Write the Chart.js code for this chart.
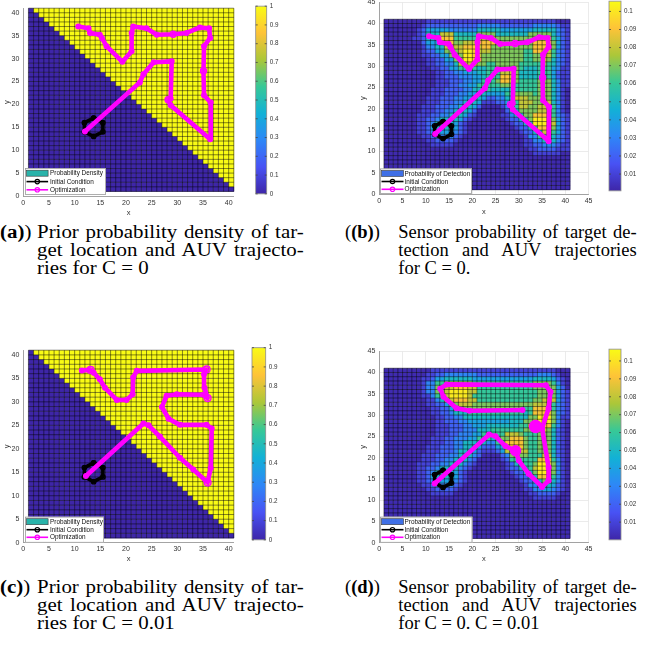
<!DOCTYPE html>
<html>
<head>
<meta charset="utf-8">
<title>AUV search trajectories</title>
<script src="https://cdn.jsdelivr.net/npm/chart.js@4.4.1/dist/chart.umd.min.js"></script>
<style>
  html, body { margin: 0; padding: 0; background: #fff; }
  body { position: relative; width: 658px; height: 651px; overflow: hidden; }
  canvas { position: absolute; }
  .cap { position: absolute; font-family: "Liberation Serif", "Times New Roman", serif; font-size: 18.5px; line-height: 18.3px; color: #000; }
  .cap .tag { position: absolute; top: 0; white-space: nowrap; transform-origin: 0 0; }
  .cap .ln { position: absolute; white-space: nowrap; text-align: justify; text-align-last: justify; transform-origin: 0 0; }
  .cap .ln.end { text-align-last: left; }
  .cap.wide .ln, .cap.wide .tag { transform: scaleX(1.13); }
</style>
</head>
<body>

<div class="cap wide" style="left:0; top:222.5px; width:330px; height:60px">
  <span class="tag" style="left:0"><b>(a)</b>)</span>
  <div class="ln" style="left:36.7px; top:0; width:236px">Prior probability density of tar-</div>
  <div class="ln" style="left:36.7px; top:18.3px; width:236px">get location and AUV trajecto-</div>
  <div class="ln end" style="left:36.7px; top:36.6px; width:236px">ries for C = 0</div>
</div>
<div class="cap" style="left:345px; top:222.5px; width:313px; height:60px">
  <span class="tag" style="left:0">(<b>(b)</b>)</span>
  <div class="ln" style="left:53.3px; top:0; width:238.4px">Sensor probability of target de-</div>
  <div class="ln" style="left:53.3px; top:18.3px; width:238.4px">tection and AUV trajectories</div>
  <div class="ln end" style="left:53.3px; top:36.6px; width:238.4px">for C = 0.</div>
</div>
<div class="cap wide" style="left:0; top:577.5px; width:330px; height:60px">
  <span class="tag" style="left:0"><b>(c)</b>)</span>
  <div class="ln" style="left:36.7px; top:0; width:236px">Prior probability density of tar-</div>
  <div class="ln" style="left:36.7px; top:18.3px; width:236px">get location and AUV trajecto-</div>
  <div class="ln end" style="left:36.7px; top:36.6px; width:236px">ries for C = 0.01</div>
</div>
<div class="cap" style="left:345px; top:577.5px; width:313px; height:60px">
  <span class="tag" style="left:0">(<b>(d)</b>)</span>
  <div class="ln" style="left:53.3px; top:0; width:238.4px">Sensor probability of target de-</div>
  <div class="ln" style="left:53.3px; top:18.3px; width:238.4px">tection and AUV trajectories</div>
  <div class="ln end" style="left:53.3px; top:36.6px; width:238.4px">for C = 0. C = 0.01</div>
</div>

<script>
// ---------- data ----------
const gridTicks = [0, 5, 10, 15, 20, 25, 30, 35, 40];
const gridTicksWide = [0, 5, 10, 15, 20, 25, 30, 35, 40, 45];
const densityTicks = [0, 0.1, 0.2, 0.3, 0.4, 0.5, 0.6, 0.7, 0.8, 0.9, 1];
const detectTicks = [0.01, 0.02, 0.03, 0.04, 0.05, 0.06, 0.07, 0.08, 0.09, 0.1];

// prior density: first column (1-based) holding density 1, rows from y=40 down to y=1
const priorFirstHigh = [2, 3, 4, 5, 6, 7, 8, 9, 10, 11, 12, 13, 14, 15, 16, 17, 18, 19, 20, 21,
  22, 23, 24, 25, 26, 27, 28, 29, 30, 31, 32, 33, 34, 35, 36, 37, 38, 39, 40, 41];

// detection probability in hundredths ('a' = top of scale), rows from y=40 down to y=1
const detectRowsC0 = [
  '0000000001 1111111111 1111111111 1111111000',
  '0000000012 2222222222 3333322222 2233333211',
  '0000000124 4444333333 5555544444 4455555321',
  '0000000125 5588855555 7777555555 5777775321',
  '0000001125 5599966666 8888777777 7788886421',
  '0000000024 4499977888 9999777777 7799997421',
  '0000000013 3558888999 8997777777 7799997421',
  '0000000012 2447778aa9 8887777777 6699986321',
  '0000000011 2244777aa9 8777777777 6677886321',
  '0000000001 1224477aa9 9777777777 6677875321',
  '0000000001 1223358888 7766777776 6666765321',
  '0000000000 1122446666 5566777776 5556664311',
  '0000000000 0112233444 5566688875 5556664211',
  '0000000000 0112223334 4566699875 5556664211',
  '0000000000 0111222334 4666799876 6667775311',
  '0000000000 0111223344 6666677766 6667775311',
  '0000000000 1112222335 5665555666 6667775310',
  '0000000000 1112223344 5544446677 7767775310',
  '0000000001 1122233445 5422335588 8777775310',
  '0000000001 1122233555 4111224668 8877885310',
  '0000000011 1222335554 2000013668 8778886310',
  '0000000011 1223355542 0000002557 7778886310',
  '0000000111 2233555421 0000011355 7799996321',
  '0000000112 2355554210 0000001225 57aaaa7421',
  '0000000112 3555542100 0000000122 55aaaa8421',
  '0000000112 4555542100 0000000012 2559997421',
  '0000000112 3444432100 0000000001 2255886421',
  '0000000011 2333321000 0000000000 1336665321',
  '0000000001 1222210000 0000000000 1133555321',
  '0000000000 1111100000 0000000000 1122333211',
  '0000000000 0000000000 0000000000 0112222111',
  '0000000000 0000000000 0000000000 0011111100',
  '0000000000 0000000000 0000000000 0000000000',
  '0000000000 0000000000 0000000000 0000000000',
  '0000000000 0000000000 0000000000 0000000000',
  '0000000000 0000000000 0000000000 0000000000',
  '0000000000 0000000000 0000000000 0000000000',
  '0000000000 0000000000 0000000000 0000000000',
  '0000000000 0000000000 0000000000 0000000000',
  '0000000000 0000000000 0000000000 0000000000'
];
const detectRowsC001 = [
  '0000000000 1111111111 1111111111 1111111000',
  '0000000001 1223333333 2222222222 2223332100',
  '0000000011 2445555554 4444444444 4455554210',
  '0000000013 3667777776 6666666666 6677776310',
  '0000000013 3778899988 6666666666 6677777420',
  '0000000013 3778aaaa88 6666666666 6667777421',
  '0000000011 3668aaaa86 6666666666 6667777421',
  '0000000001 1358899988 6666666666 6677888421',
  '0000000001 1224778887 7777777777 7788886321',
  '0000000000 1122477777 7777777777 6699996321',
  '0000000000 1122355566 6666666666 5699997321',
  '0000000000 0112233555 5555555555 577aaa7311',
  '0000000000 0112223344 4444444555 77aaaa7310',
  '0000000000 0111222334 4455555556 6999996310',
  '0000000000 0111222333 5556666666 7788875210',
  '0000000000 0111223334 4666668887 6667775210',
  '0000000000 1112233344 6665577999 7667775210',
  '0000000000 1112233555 5533669999 7667775210',
  '0000000001 1122233555 4222449999 7667775210',
  '0000000001 1122235554 2111248888 8667775210',
  '0000000011 1222335553 2000023777 7666885210',
  '0000000011 1223355532 0000012666 6669996310',
  '0000000111 2233555321 0000001255 667aaa7310',
  '0000000112 2355553210 0000001225 568aaa7310',
  '0000000112 3555542100 0000000122 557aaa7310',
  '0000000112 4555542100 0000000012 2559996310',
  '0000000112 3444432100 0000000001 2255775310',
  '0000000011 2333321000 0000000000 1335554210',
  '0000000001 1222210000 0000000000 1133443210',
  '0000000000 1111100000 0000000000 0112222100',
  '0000000000 0000000000 0000000000 0011111000',
  '0000000000 0000000000 0000000000 0000000000',
  '0000000000 0000000000 0000000000 0000000000',
  '0000000000 0000000000 0000000000 0000000000',
  '0000000000 0000000000 0000000000 0000000000',
  '0000000000 0000000000 0000000000 0000000000',
  '0000000000 0000000000 0000000000 0000000000',
  '0000000000 0000000000 0000000000 0000000000',
  '0000000000 0000000000 0000000000 0000000000',
  '0000000000 0000000000 0000000000 0000000000'
];

// initial condition ring and optimised AUV paths (x, y)
const initialRing = [[13.7, 17.0], [15.5, 16.0], [15.5, 14.0], [13.7, 13.0], [11.9, 14.0], [11.9, 16.0], [13.7, 17.0]];
const pathC0 = [[12.0, 14.1], [22.7, 24.8], [23.4, 26.6], [25.4, 29.2], [28.9, 29.4], [28.7, 21.3], [28.2, 21.0],
  [28.7, 19.8], [36.4, 12.4], [36.5, 20.4], [35.2, 22.0], [35.1, 27.3], [35.2, 32.7], [36.4, 34.5], [36.2, 36.6],
  [34.4, 36.8], [31.8, 35.6], [29.2, 35.3], [26.0, 35.2], [24.0, 36.6], [21.4, 37.0], [21.1, 35.6], [21.1, 31.6],
  [19.3, 29.3], [16.2, 32.7], [15.3, 34.5], [14.9, 35.2], [13.0, 35.6], [12.7, 36.6], [10.7, 37.0]];
const pathC001 = [[12.2, 14.2], [23.4, 25.4], [24.4, 25.0], [26.6, 22.6], [30.5, 18.1], [33.1, 15.6], [35.9, 12.8],
  [36.5, 15.9], [36.7, 24.3], [35.7, 25.1], [30.5, 25.1], [28.3, 26.4], [27.0, 28.9], [27.9, 31.3], [29.9, 31.6],
  [35.1, 31.5], [35.9, 30.8], [35.3, 33.0], [35.2, 35.9], [35.7, 36.9], [22.1, 36.6], [21.4, 35.2], [21.3, 31.6],
  [20.1, 30.4], [18.2, 30.4], [15.9, 33.0], [14.9, 34.8], [13.7, 36.2], [13.1, 36.8], [11.4, 36.7]];
const pathC001Sensor = [[11.9, 13.9], [23.6, 25.4], [25.0, 25.0], [27.1, 22.7], [29.3, 21.6], [30.0, 19.3],
  [32.1, 16.2], [35.0, 13.1], [36.4, 14.6], [36.4, 17.7], [35.0, 26.9], [33.6, 27.3], [35.0, 26.9], [36.4, 31.6],
  [36.8, 35.5], [35.8, 37.0], [14.5, 37.2], [13.1, 36.2], [13.8, 34.3], [16.6, 31.6], [19.4, 31.0], [30.8, 31.2]];

// ---------- colour map ----------
const PARULA = [[62, 38, 168], [72, 82, 244], [46, 135, 247], [18, 177, 214],
  [55, 200, 151], [171, 199, 57], [254, 195, 56], [249, 251, 21]];

function parula(t) {
  t = Math.min(1, Math.max(0, t));
  const p = t * (PARULA.length - 1);
  const k = Math.min(PARULA.length - 2, Math.floor(p));
  const f = p - k;
  const a = PARULA[k], b = PARULA[k + 1];
  const c = a.map((v, n) => Math.round(v + (b[n] - v) * f));
  return `rgb(${c[0]},${c[1]},${c[2]})`;
}

function levelValue(ch) {
  const n = parseInt(ch, 16);
  if (n === 0) return 0.002;
  if (n === 10) return 0.102;
  return n / 100;
}

const priorCells = priorFirstHigh.map(first => Array.from({ length: 40 }, (_, c) => (c + 1 >= first ? 1 : 0)));
const decodeRows = rows => rows.map(r => r.replace(/ /g, '').split('').map(levelValue));

const FONT = '"Liberation Sans", Arial, Helvetica, sans-serif';
const INK = '#333';
const layers = {};

// ---------- plugins ----------
const heatLayer = {
  id: 'heatLayer',
  beforeDatasetsDraw(chart) {
    const spec = layers[chart.canvas.id];
    if (!spec) return;
    const { ctx, scales: { x, y } } = chart;
    const n = spec.cells.length;
    ctx.save();
    spec.cells.forEach((row, r) => {
      const j = n - r; // cell covers y in [j, j+1]
      row.forEach((v, c) => {
        const i = c + 1; // cell covers x in [i, i+1]
        const x0 = x.getPixelForValue(i), x1 = x.getPixelForValue(i + 1);
        const y0 = y.getPixelForValue(j + 1), y1 = y.getPixelForValue(j);
        ctx.fillStyle = parula((v - spec.vmin) / (spec.vmax - spec.vmin));
        ctx.fillRect(x0, y0, x1 - x0 + 0.3, y1 - y0 + 0.3);
      });
    });
    ctx.strokeStyle = 'rgba(0,0,0,0.6)';
    ctx.lineWidth = 0.8;
    ctx.beginPath();
    for (let k = 1; k <= n + 1; k++) {
      const px = x.getPixelForValue(k);
      ctx.moveTo(px, y.getPixelForValue(1));
      ctx.lineTo(px, y.getPixelForValue(n + 1));
      const py = y.getPixelForValue(k);
      ctx.moveTo(x.getPixelForValue(1), py);
      ctx.lineTo(x.getPixelForValue(n + 1), py);
    }
    ctx.stroke();
    ctx.restore();
  }
};

const boxLegend = {
  id: 'boxLegend',
  afterDatasetsDraw(chart) {
    const spec = layers[chart.canvas.id];
    if (!spec || !spec.legend) return;
    const lg = spec.legend;
    const { ctx, chartArea: ca } = chart;
    const x0 = ca.left + lg.dx, y0 = ca.bottom - lg.dy - lg.h;
    ctx.save();
    ctx.fillStyle = '#fff';
    ctx.fillRect(x0, y0, lg.w, lg.h);
    ctx.strokeStyle = '#9a9a9a';
    ctx.lineWidth = 0.8;
    ctx.strokeRect(x0 + 0.4, y0 + 0.4, lg.w - 0.8, lg.h - 0.8);
    ctx.font = `6.4px ${FONT}`;
    ctx.textBaseline = 'middle';
    const sx0 = x0 + 1.5, sx1 = x0 + 1.5 + lg.sampleW;
    lg.items.forEach((it, k) => {
      const cy = y0 + lg.rows[k];
      if (it.patch) {
        ctx.fillStyle = it.patch;
        ctx.fillRect(sx0, cy - 3, sx1 - sx0, 6);
        ctx.strokeStyle = '#3a3a3a';
        ctx.lineWidth = 0.6;
        ctx.strokeRect(sx0, cy - 3, sx1 - sx0, 6);
      } else {
        ctx.strokeStyle = it.color;
        ctx.lineWidth = 1.6;
        ctx.beginPath();
        ctx.moveTo(sx0, cy);
        ctx.lineTo(sx1, cy);
        ctx.stroke();
        ctx.lineWidth = 1.2;
        ctx.beginPath();
        ctx.arc((sx0 + sx1) / 2, cy, 2.2, 0, Math.PI * 2);
        ctx.stroke();
      }
      ctx.fillStyle = '#111';
      ctx.fillText(it.label, x0 + lg.textX, cy + 0.3);
    });
    ctx.restore();
  }
};

const barFrame = {
  id: 'barFrame',
  afterDatasetsDraw(chart) {
    const { ctx, chartArea: ca, scales: { y } } = chart;
    ctx.save();
    ctx.strokeStyle = '#8c8c8c';
    ctx.lineWidth = 0.8;
    ctx.strokeRect(ca.left, ca.top, ca.right - ca.left, ca.bottom - ca.top);
    ctx.strokeStyle = '#444';
    ctx.beginPath();
    y.ticks.forEach(t => {
      const py = y.getPixelForValue(t.value);
      ctx.moveTo(ca.right, py);
      ctx.lineTo(ca.right - 2, py);
      ctx.moveTo(ca.left, py);
      ctx.lineTo(ca.left + 2, py);
    });
    ctx.stroke();
    ctx.restore();
  }
};

// ---------- builders ----------
function place(id, box) {
  const cv = document.createElement('canvas');
  cv.id = id;
  cv.width = box.w;
  cv.height = box.h;
  cv.style.left = box.l + 'px';
  cv.style.top = box.t + 'px';
  cv.style.width = box.w + 'px';
  cv.style.height = box.h + 'px';
  document.body.appendChild(cv);
  return cv;
}

function pathDataset(points, color, width, radius, fill) {
  return {
    data: points.map(([x, y]) => ({ x, y })),
    showLine: true,
    borderColor: color,
    borderWidth: width,
    borderJoinStyle: 'round',
    borderCapStyle: 'round',
    pointRadius: radius,
    pointBorderColor: color,
    pointBorderWidth: 1.4,
    pointBackgroundColor: fill || 'rgba(0,0,0,0)',
    tension: 0
  };
}

function heatPanel(id, box, o) {
  const cv = place(id, box);
  layers[id] = o.layer;
  const axisFont = { family: FONT, size: 7, lineHeight: 1.2 };
  const axis = (ticksList, max, isX) => ({
    type: 'linear',
    min: 0,
    max,
    position: isX ? 'bottom' : 'left',
    afterBuildTicks: s => { s.ticks = ticksList.map(v => ({ value: v })); },
    afterFit: s => { if (isX) s.height = box.hx; else s.width = box.wy; },
    grid: o.grid ? { color: '#e6e6e6', lineWidth: 0.8, drawTicks: false } : { display: false, drawTicks: false },
    border: { display: true, color: '#9a9a9a', width: 0.9 },
    ticks: { autoSkip: false, maxRotation: 0, padding: isX ? 2.5 : 4, color: INK, font: axisFont },
    title: {
      display: true,
      text: isX ? 'x' : 'y',
      color: INK,
      font: { family: FONT, size: 7.5, lineHeight: 1.2 },
      padding: isX ? { top: 0, bottom: box.xtp } : { top: box.ytp, bottom: 0 }
    }
  });
  return new Chart(cv, {
    type: 'scatter',
    data: {
      datasets: [
        pathDataset(o.path, '#ff00ff', 4.6, o.pathRadius, o.pathFill),
        pathDataset(initialRing, '#000000', 3.6, 2.2)
      ]
    },
    options: {
      responsive: false,
      animation: false,
      events: [],
      layout: { padding: { top: box.pt, right: box.pr, left: 0, bottom: 0 } },
      plugins: { legend: { display: false }, tooltip: { enabled: false } },
      scales: { x: axis(o.ticks, o.max, true), y: axis(o.ticks, o.max, false) }
    },
    plugins: [heatLayer, boxLegend]
  });
}

function colorBar(id, box, range, ticksList) {
  const cv = place(id, box);
  const fill = c => {
    const { ctx, chartArea: ca } = c.chart;
    if (!ca) return PARULA[0];
    const g = ctx.createLinearGradient(0, ca.bottom, 0, ca.top);
    PARULA.forEach((col, k) => g.addColorStop(k / (PARULA.length - 1), `rgb(${col[0]},${col[1]},${col[2]})`));
    return g;
  };
  return new Chart(cv, {
    type: 'bar',
    data: {
      labels: [''],
      datasets: [{ data: [range], backgroundColor: fill, borderWidth: 0, barPercentage: 1, categoryPercentage: 1 }]
    },
    options: {
      responsive: false,
      animation: false,
      events: [],
      layout: { padding: { top: box.pt, bottom: box.pb, left: box.pl, right: 0 } },
      plugins: { legend: { display: false }, tooltip: { enabled: false } },
      scales: {
        x: { display: false },
        y: {
          position: 'right',
          min: range[0],
          max: range[1],
          afterBuildTicks: s => { s.ticks = ticksList.map(v => ({ value: v })); },
          afterFit: s => { s.width = box.aw; },
          grid: { display: false, drawTicks: false },
          border: { display: false },
          ticks: {
            autoSkip: false,
            padding: 3,
            color: INK,
            font: { family: FONT, size: 6.3, lineHeight: 1 },
            callback: v => String(+Number(v).toFixed(2))
          }
        }
      }
    },
    plugins: [barFrame]
  });
}

// ---------- panels ----------
const priorLegend = label => ({
  items: [
    { patch: '#29b3aa', label },
    { color: '#000', label: 'Initial Condition' },
    { color: '#ff00ff', label: 'Optimization' }
  ]
});
const detectLegend = label => ({
  items: [
    { patch: '#3f6fe6', label },
    { color: '#000', label: 'Initial Condition' },
    { color: '#ff00ff', label: 'Optimization' }
  ]
});

const radiusC0 = pathC0.map((_, k) => ([6, 11, 17].includes(k) ? 3 : 2.3));
const radiusC001 = pathC001.map((_, k) => ([6, 16, 19, 28].includes(k) ? 3.4 : 2.3));
const radiusSensor = pathC001Sensor.map((_, k) => (k === 4 ? 5 : k === 11 ? 6 : 2.3));
const fillSensor = pathC001Sensor.map((_, k) => (k === 4 || k === 11 ? '#ff00ff' : 'rgba(0,0,0,0)'));

heatPanel('panelA', { l: 0, t: 0, w: 240, h: 217, pt: 4.3, pr: 6.2, wy: 23.3, hx: 21, xtp: 0, ytp: 2.2 }, {
  ticks: gridTicks, max: 41, grid: false, path: pathC0, pathRadius: radiusC0,
  layer: { cells: priorCells, vmin: 0, vmax: 1,
    legend: Object.assign(priorLegend('Probability Density'), { dx: 1.7, dy: 1, w: 81, h: 27, rows: [5.2, 13.6, 21.8], sampleW: 21.6, textX: 25 }) }
});
heatPanel('panelB', { l: 356, t: -6, w: 239, h: 222, pt: 5.4, pr: 4.7, wy: 23.3, hx: 22, xtp: 0, ytp: 2.8 }, {
  ticks: gridTicksWide, max: 45, grid: true, path: pathC0, pathRadius: radiusC0,
  layer: { cells: decodeRows(detectRowsC0), vmin: 0.0007, vmax: 0.1057,
    legend: Object.assign(detectLegend('Probability of Detection'), { dx: 0.7, dy: 0, w: 92, h: 25.5, rows: [5, 13, 20.8], sampleW: 22, textX: 24.5 }) }
});
heatPanel('panelC', { l: 0, t: 342, w: 240, h: 222, pt: 4.9, pr: 6.2, wy: 23.3, hx: 21.3, xtp: 0.2, ytp: 2.8 }, {
  ticks: gridTicks, max: 41, grid: false, path: pathC001, pathRadius: radiusC001,
  layer: { cells: priorCells, vmin: 0, vmax: 1,
    legend: Object.assign(priorLegend('Probability Density'), { dx: 1.7, dy: 0, w: 79, h: 26, rows: [5, 13, 20.6], sampleW: 21.6, textX: 25 }) }
});
heatPanel('panelD', { l: 356, t: 343, w: 239, h: 221, pt: 5.7, pr: 4.7, wy: 23.3, hx: 21.3, xtp: 0.5, ytp: 2.8 }, {
  ticks: gridTicksWide, max: 45, grid: true, path: pathC001Sensor, pathRadius: radiusSensor, pathFill: fillSensor,
  layer: { cells: decodeRows(detectRowsC001), vmin: 0.0001, vmax: 0.1066,
    legend: Object.assign(detectLegend('Probability of Detection'), { dx: 0.7, dy: 0, w: 92.4, h: 26, rows: [5, 13, 20.6], sampleW: 22, textX: 24.5 }) }
});

colorBar('barA', { l: 250, t: 0, w: 37, h: 200, pt: 3.3, pb: 4.3, pl: 5.7, aw: 20.3 }, [0, 1], densityTicks);
colorBar('barB', { l: 603, t: -5, w: 42, h: 202, pt: 4.4, pb: 3, pl: 6, aw: 24 }, [0.0007, 0.1057], detectTicks);
colorBar('barC', { l: 246, t: 340, w: 40, h: 206, pt: 7.7, pb: 3.3, pl: 6, aw: 20.3 }, [0, 1], densityTicks);
colorBar('barD', { l: 603, t: 343, w: 42, h: 203, pt: 5.7, pb: 3.3, pl: 6, aw: 24 }, [0.0001, 0.1066], detectTicks);
</script>
</body>
</html>
